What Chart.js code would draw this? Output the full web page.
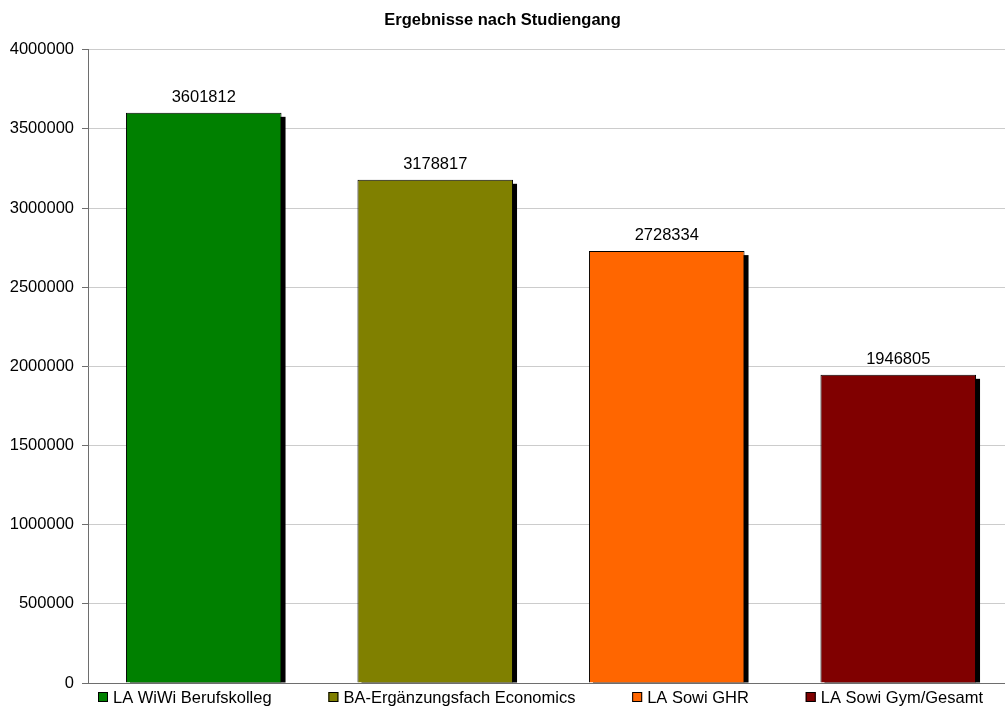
<!DOCTYPE html>
<html>
<head>
<meta charset="utf-8">
<script src="https://cdn.jsdelivr.net/npm/chart.js@4/dist/chart.umd.min.js"></script>
<style>
  html, body { margin: 0; padding: 0; background: #fff; }
  #wrap { width: 1005px; height: 713px; }
</style>
</head>
<body>
<div id="wrap"><canvas id="studChart"></canvas></div>
<script>
// Studiengänge und Ergebnisse
var categories = ["LA WiWi Berufskolleg", "BA-Ergänzungsfach Economics", "LA Sowi GHR", "LA Sowi Gym/Gesamt"];
var values = [3601812, 3178817, 2728334, 1946805];
var barColors = ["#008000", "#808000", "#FF6600", "#800000"];
var yTicks = [0, 500000, 1000000, 1500000, 2000000, 2500000, 3000000, 3500000, 4000000];

var FONT = '"Liberation Sans", Arial, sans-serif';
var FSIZE = 16.5;

// Kategorieachse läuft etwas über den rechten Rand hinaus
var widenX = {
  id: 'widenX',
  afterLayout: function(chart) {
    var x = chart.scales.x;
    x.right += 9;
    x.width += 9;
    x.configure();
  }
};

// schwarzer Schatten rechts unten hinter jedem Balken
var barShadow = {
  id: 'barShadow',
  beforeDatasetsDraw: function(chart) {
    var ctx = chart.ctx;
    var meta = chart.getDatasetMeta(0);
    ctx.save();
    ctx.fillStyle = '#000';
    meta.data.forEach(function(bar) {
      var p = bar.getProps(['x', 'y', 'base', 'width'], true);
      ctx.fillRect(p.x - p.width / 2 + 4, p.y + 4, p.width, p.base - p.y - 4);
    });
    ctx.restore();
  }
};

// Werte über den Balken
var valueLabels = {
  id: 'valueLabels',
  afterDatasetsDraw: function(chart) {
    var ctx = chart.ctx;
    var meta = chart.getDatasetMeta(0);
    ctx.save();
    ctx.font = FSIZE + 'px ' + FONT;
    ctx.fillStyle = '#000';
    ctx.textAlign = 'center';
    ctx.textBaseline = 'alphabetic';
    meta.data.forEach(function(bar, i) {
      ctx.fillText(String(values[i]), bar.x, bar.y - 11);
    });
    ctx.restore();
  }
};

// Legende unten, ab dem linken Rand der Zeichenfläche
var bottomLegend = {
  id: 'bottomLegend',
  afterDraw: function(chart) {
    var ctx = chart.ctx;
    var area = chart.chartArea;
    var box = 10, gapText = 5;
    ctx.save();
    ctx.font = FSIZE + 'px ' + FONT;
    var widths = categories.map(function(c) { return ctx.measureText(c).width; });
    var total = 0;
    widths.forEach(function(w) { total += box + gapText + w; });
    var left = area.left + 10, right = area.left + 895;
    var gap = (right - left - total) / (categories.length - 1);
    var x = left;
    var y = 697;
    ctx.textBaseline = 'middle';
    ctx.textAlign = 'left';
    categories.forEach(function(c, i) {
      ctx.fillStyle = barColors[i];
      ctx.fillRect(x, y - box / 2, box, box);
      ctx.strokeStyle = '#000';
      ctx.lineWidth = 1;
      ctx.strokeRect(x + 0.5, y - box / 2 + 0.5, box - 1, box - 1);
      ctx.fillStyle = '#000';
      ctx.fillText(c, x + box + gapText, y + 1);
      x += box + gapText + widths[i] + gap;
    });
    ctx.restore();
  }
};

new Chart(document.getElementById('studChart'), {
  type: 'bar',
  data: {
    labels: categories,
    datasets: [{
      data: values,
      backgroundColor: barColors,
      borderColor: '#000',
      borderWidth: 1,
      barPercentage: 0.672,
      categoryPercentage: 1
    }]
  },
  options: {
    responsive: true,
    maintainAspectRatio: false,
    animation: false,
    layout: { padding: { left: 0, right: 0, top: 0, bottom: 30 } },
    plugins: {
      legend: { display: false },
      tooltip: { enabled: false },
      title: {
        display: true,
        text: 'Ergebnisse nach Studiengang',
        color: '#000',
        font: { family: FONT, size: FSIZE, weight: 'bold' },
        padding: { top: 11, bottom: 19 }
      }
    },
    scales: {
      x: {
        ticks: { display: false },
        grid: { display: false, drawTicks: false },
        border: { display: true, color: '#6e6e6e', width: 1 }
      },
      y: {
        min: 0,
        max: 4000000,
        afterBuildTicks: function(axis) {
          axis.ticks = yTicks.map(function(v) { return { value: v }; });
        },
        afterFit: function(axis) { axis.width = 88; },
        ticks: {
          color: '#000',
          padding: 8,
          font: { family: FONT, size: FSIZE },
          callback: function(v) { return String(v); }
        },
        grid: { color: '#cccccc', tickLength: 6, tickColor: '#6e6e6e' },
        border: { color: '#6e6e6e', width: 1 }
      }
    }
  },
  plugins: [widenX, barShadow, valueLabels, bottomLegend]
});
</script>
</body>
</html>
